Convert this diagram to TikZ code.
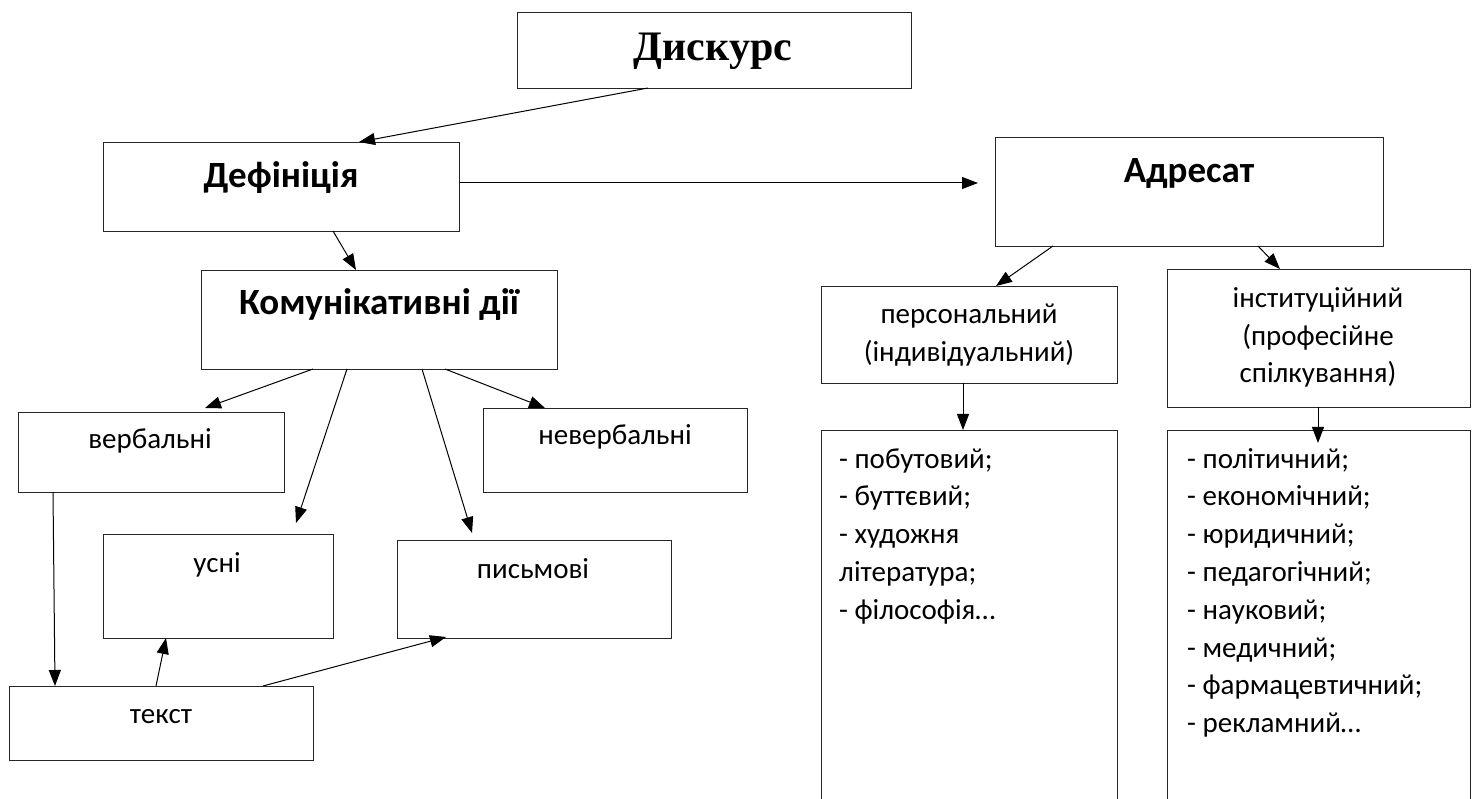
\documentclass[tikz,border=0pt]{standalone}
\usepackage{fontspec}
\setmainfont{Carlito}
\newfontfamily\tnr{Liberation Serif}
\usetikzlibrary{arrows.meta,calc}
\tikzset{
  box/.style={draw=black!85, line width=1.2pt, rectangle, anchor=north west, inner sep=0pt},
  arr/.style={draw=black, line width=1pt, -{Triangle[length=16pt,width=12pt]}},
  lbl/.style={anchor=base, inner sep=0pt, font=\fontsize{29}{34}\selectfont},
  hdr/.style={anchor=base, inner sep=0pt, font=\fontsize{37}{44}\selectfont\bfseries},
  lst/.style={anchor=base west, inner sep=0pt, align=left, font=\fontsize{29}{37.8}\selectfont}
}
\begin{document}
\begin{tikzpicture}[x=1pt,y=-1pt]
\useasboundingbox (0,0) rectangle (1478,799);
\clip (0,0) rectangle (1478,799);
% boxes
\node[box, minimum width=394pt, minimum height=76pt] (disk) at (517,12) {};
\node[box, minimum width=356pt, minimum height=89pt] (def) at (103,142) {};
\node[box, minimum width=388pt, minimum height=109pt] (adr) at (995,137) {};
\node[box, minimum width=356pt, minimum height=99pt] (kom) at (201,270) {};
\node[box, minimum width=296pt, minimum height=97pt] (pers) at (821,286) {};
\node[box, minimum width=303pt, minimum height=138pt] (inst) at (1167,269) {};
\node[box, minimum width=266pt, minimum height=80pt] (verb) at (18,412) {};
\node[box, minimum width=264pt, minimum height=84pt] (never) at (483,408) {};
\node[box, minimum width=230pt, minimum height=104pt] (usni) at (103,534) {};
\node[box, minimum width=274pt, minimum height=98pt] (pysm) at (397,540) {};
\node[box, minimum width=304pt, minimum height=74pt] (tekst) at (9,686) {};
\node[box, minimum width=296pt, minimum height=420pt] (listL) at (821,430) {};
\node[box, minimum width=303pt, minimum height=420pt] (listR) at (1167,430) {};
% texts
\node[anchor=base, inner sep=0pt, font=\fontsize{42}{48}\selectfont\tnr\bfseries] (tDisk) at (713,61) {Дискурс};
\node[hdr] (tDef) at (281,188) {Дефініція};
\node[hdr] (tAdr) at (1189,183) {Адресат};
\node[hdr] (tKom) at (379,315) {Комунікативні дії};
\node[lbl] (tPers1) at (969,324) {персональний};
\node[lbl] (tPers2) at (969,362) {(індивідуальний)};
\node[lbl] (tInst1) at (1318,308) {інституційний};
\node[lbl] (tInst2) at (1318,346) {(професійне};
\node[lbl] (tInst3) at (1318,383) {спілкування)};
\node[lbl] (tVerb) at (150,448) {вербальні};
\node[lbl] (tNever) at (615,445) {невербальні};
\node[lbl] (tUsni) at (217,572) {усні};
\node[lbl] (tPysm) at (533,578) {письмові};
\node[lbl] (tTekst) at (161,723) {текст};
\node[lst] (tListL) at (839,619.2) {- побутовий;\\- буттєвий;\\- художня\\література;\\- філософія…};
\node[lst] (tListR) at (1187,732.6) {- політичний;\\- економічний;\\- юридичний;\\- педагогічний;\\- науковий;\\- медичний;\\- фармацевтичний;\\- рекламний…};
% connectors
\draw[arr] ($(disk.north west)+(131,76)$) -- ($(def.north west)+(256,0)$);
\draw[arr] ($(def.north west)+(356,41)$) -- ($(adr.north west)+(-17,46)$);
\draw[arr] ($(def.north west)+(230,89)$) -- ($(kom.north west)+(155,0)$);
\draw[arr] ($(kom.north west)+(112,99)$) -- ($(verb.north west)+(187,-4)$);
\draw[arr] ($(kom.north west)+(146,99)$) -- ($(usni.north west)+(193,-11)$);
\draw[arr] ($(kom.north west)+(221,99)$) -- ($(pysm.north west)+(75,-7)$);
\draw[arr] ($(kom.north west)+(244,99)$) -- ($(never.north west)+(62,0)$);
\draw[arr] ($(verb.north west)+(35,80)$) -- ($(tekst.north west)+(46,0)$);
\draw[arr] ($(tekst.north west)+(147,0)$) -- ($(usni.north west)+(63,104)$);
\draw[arr] ($(tekst.north west)+(254,0)$) -- ($(pysm.north west)+(49,97)$);
\draw[arr] ($(adr.north west)+(58,109)$) -- ($(pers.north west)+(175,0)$);
\draw[arr] ($(adr.north west)+(263,109)$) -- ($(inst.north west)+(113,0)$);
\draw[arr] ($(pers.north west)+(142,97)$) -- ($(listL.north west)+(142,0)$);
\draw[arr] ($(inst.north west)+(151,138)$) -- ($(listR.north west)+(151,13)$);
\end{tikzpicture}
\end{document}
